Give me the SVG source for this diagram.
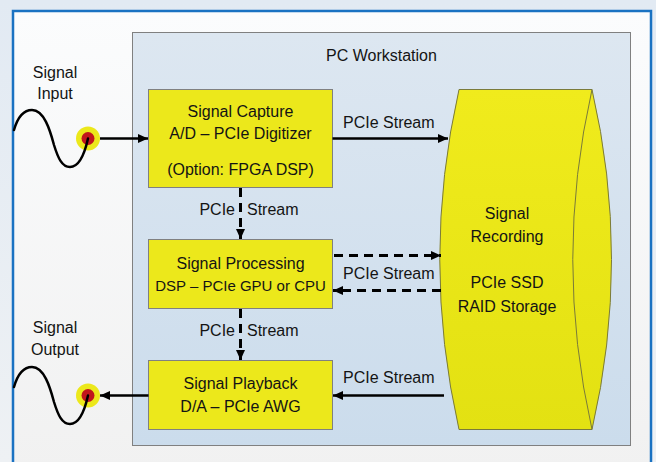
<svg xmlns="http://www.w3.org/2000/svg" width="656" height="462" viewBox="0 0 656 462">
  <style>
    text { font-family: "Liberation Sans", Arial, sans-serif; font-size: 16px; fill: #141414; }
    .c { text-anchor: middle; }
    .box { fill: #ece81b; stroke: #808080; stroke-width: 1; }
    .flow { fill: none; stroke: #000; stroke-width: 2.6; }
    .dash { stroke-dasharray: 9 6; stroke-width: 3; }
    .wave { fill: none; stroke: #000; stroke-width: 2.5; stroke-linecap: round; }
  </style>
  <defs>
    <linearGradient id="page" x1="0" y1="0" x2="0" y2="1">
      <stop offset="0" stop-color="#e2eaf3"/>
      <stop offset="1" stop-color="#eef1f4"/>
    </linearGradient>
    <linearGradient id="panel" x1="0" y1="0" x2="0" y2="1">
      <stop offset="0" stop-color="#fbfcfd"/>
      <stop offset="1" stop-color="#f1f1f1"/>
    </linearGradient>
    <linearGradient id="pc" x1="0" y1="0" x2="0" y2="1">
      <stop offset="0" stop-color="#dde7f1"/>
      <stop offset="1" stop-color="#cbdcec"/>
    </linearGradient>
    <linearGradient id="can" x1="0" y1="0" x2="0" y2="1">
      <stop offset="0" stop-color="#f0eb1c"/>
      <stop offset="1" stop-color="#e3e112"/>
    </linearGradient>
    <marker id="head" viewBox="0 0 10 10" refX="10" refY="5" markerWidth="10" markerHeight="10" markerUnits="userSpaceOnUse" orient="auto">
      <path d="M0,0.5 L10,5 L0,9.5 z" fill="#000"/>
    </marker>
  </defs>

  <!-- page and frame -->
  <rect x="0" y="0" width="656" height="462" fill="url(#page)"/>
  <rect x="13" y="11" width="638" height="460" fill="url(#panel)" stroke="#1a72c2" stroke-width="2.5"/>

  <!-- workstation enclosure -->
  <g id="pc-workstation">
    <rect x="132.5" y="32.5" width="498" height="413" fill="url(#pc)" stroke="#808080" stroke-width="1"/>
    <text class="c" x="381.5" y="61">PC Workstation</text>
  </g>

  <!-- input connector -->
  <g id="signal-input">
    <text class="c" x="55" y="77.5">Signal</text>
    <text class="c" x="55" y="99">Input</text>
    <circle cx="88" cy="138.5" r="12" fill="#ece81b"/>
    <circle cx="88" cy="138.5" r="6.5" fill="#c1161c"/>
    <path class="wave" d="M14,130 C18,116 24,110 32,110 C44,110 50,130 54,145 C58,158 62,167 70,167 C80,167 85,152 88,138.5"/>
  </g>

  <!-- output connector -->
  <g id="signal-output">
    <text class="c" x="55" y="332.5">Signal</text>
    <text class="c" x="55" y="355">Output</text>
    <circle cx="88" cy="395.5" r="12" fill="#ece81b"/>
    <circle cx="88" cy="395.5" r="6.5" fill="#c1161c"/>
    <path class="wave" d="M14,387 C18,373 24,367 32,367 C44,367 50,387 54,402 C58,415 62,424 70,424 C80,424 85,409 88,395.5"/>
  </g>

  <g id="signal-capture">
    <rect class="box" x="148.5" y="89.5" width="184" height="98"/>
    <text class="c" x="240.5" y="116.5">Signal Capture</text>
    <text class="c" x="240.5" y="139">A/D – PCIe Digitizer</text>
    <text class="c" x="240.5" y="175">(Option: FPGA DSP)</text>
  </g>

  <g id="signal-processing">
    <rect class="box" x="148.5" y="239.5" width="184" height="69"/>
    <text class="c" x="240.5" y="268.5">Signal Processing</text>
    <text class="c" x="240.5" y="291" style="font-size:15px">DSP – PCIe GPU or CPU</text>
  </g>

  <g id="signal-playback">
    <rect class="box" x="148.5" y="360.5" width="184" height="69"/>
    <text class="c" x="240.5" y="389">Signal Playback</text>
    <text class="c" x="240.5" y="412">D/A – PCIe AWG</text>
  </g>

  <!-- storage drawn as a can lying on its side, end face to the right -->
  <g id="signal-recording">
    <path d="M459,89.5 L592,89.5 A750,750 0 0 1 592,429.5 L459,429.5 A770,770 0 0 1 459,89.5 z" fill="url(#can)" stroke="#7a7a3a" stroke-width="1"/>
    <path d="M592,89.5 A770,770 0 0 0 592,429.5" fill="none" stroke="#7a7a3a" stroke-width="1"/>
    <text class="c" x="507" y="219">Signal</text>
    <text class="c" x="507" y="242">Recording</text>
    <text class="c" x="507" y="288">PCIe SSD</text>
    <text class="c" x="507" y="311.5">RAID Storage</text>
  </g>

  <g id="connectors">
    <line class="flow" x1="100" y1="138.5" x2="148" y2="138.5" marker-end="url(#head)"/>
    <line class="flow" x1="332.5" y1="138.5" x2="448" y2="138.5" marker-end="url(#head)"/>
    <line class="flow dash" x1="240.5" y1="188" x2="240.5" y2="239" marker-end="url(#head)"/>
    <line class="flow dash" x1="240.5" y1="309" x2="240.5" y2="360" marker-end="url(#head)"/>
    <line class="flow dash" x1="334" y1="255.5" x2="441" y2="255.5" marker-end="url(#head)"/>
    <line class="flow dash" x1="441" y1="290.5" x2="333" y2="290.5" marker-end="url(#head)"/>
    <line class="flow" x1="444" y1="395.5" x2="333" y2="395.5" marker-end="url(#head)"/>
    <line class="flow" x1="148.5" y1="395.5" x2="100" y2="395.5" marker-end="url(#head)"/>
    <text x="343" y="127.5">PCIe Stream</text>
    <text x="343" y="279">PCIe Stream</text>
    <text x="343" y="383">PCIe Stream</text>
    <text y="215"><tspan x="235" text-anchor="end">PCIe</tspan><tspan x="247">Stream</tspan></text>
    <text y="335.5"><tspan x="235" text-anchor="end">PCIe</tspan><tspan x="247">Stream</tspan></text>
  </g>
</svg>
